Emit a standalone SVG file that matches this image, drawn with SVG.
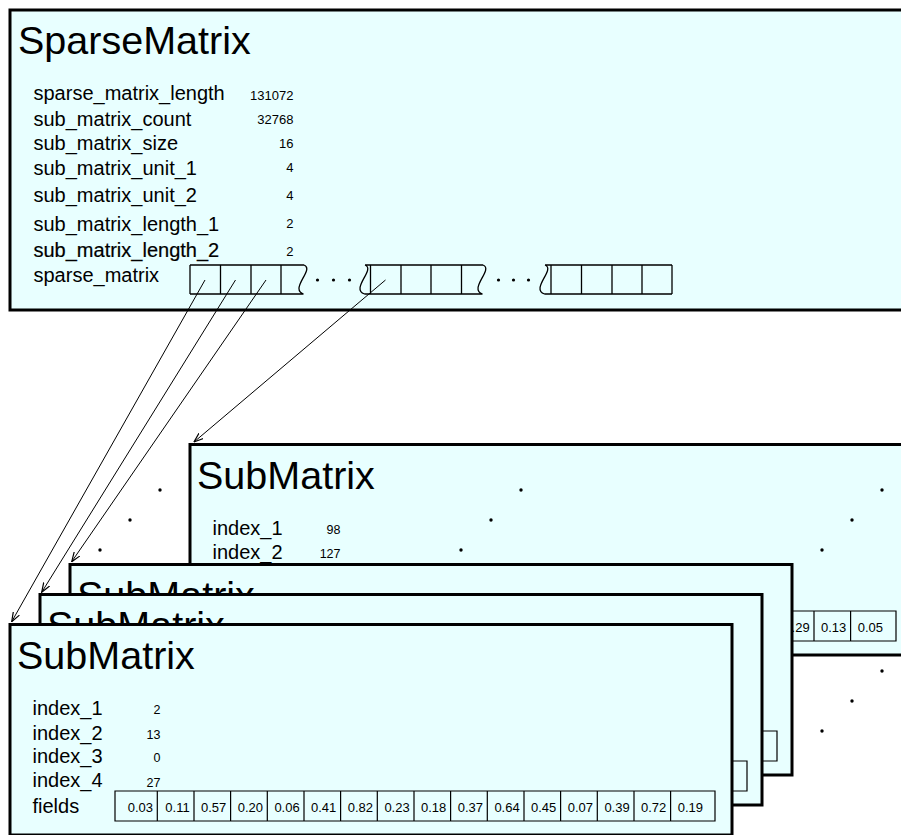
<svg xmlns="http://www.w3.org/2000/svg" width="901" height="835" viewBox="0 0 901 835">
<style>
.box{fill:#e8ffff;stroke:#000;stroke-width:3}
.title{font-family:"Liberation Sans",Arial,sans-serif;font-size:39.5px;fill:#000}
.lbl{font-family:"Liberation Sans",Arial,sans-serif;font-size:20px;fill:#000}
.val{font-family:"Liberation Sans",Arial,sans-serif;font-size:13px;fill:#000;text-anchor:end}
.sval{font-family:"Liberation Sans",Arial,sans-serif;font-size:12.5px;fill:#000;text-anchor:end}
.cv{font-family:"Liberation Sans",Arial,sans-serif;font-size:13px;fill:#000;text-anchor:end}
.cell{fill:none;stroke:#000;stroke-width:1.2}
.arr{fill:none;stroke:#000;stroke-width:1.3}
.conn{fill:none;stroke:#000;stroke-width:1;marker-end:url(#ah)}
.dot{fill:#000}
</style>
<defs>
<marker id="ah" markerUnits="userSpaceOnUse" viewBox="0 0 10 8" refX="9.5" refY="4" markerWidth="10" markerHeight="8" orient="auto">
<path d="M0,0.5 L9.5,4 L0,7.5" fill="none" stroke="#000" stroke-width="1.2"/>
</marker>
</defs>

<g id="sparse-matrix">
<rect class="box" x="10" y="10" width="1000" height="300"/>
<text class="title" x="18" y="54">SparseMatrix</text>
<text class="lbl" x="33.5" y="100">sparse_matrix_length</text>
<text class="lbl" x="33.5" y="125.5">sub_matrix_count</text>
<text class="lbl" x="33.5" y="150">sub_matrix_size</text>
<text class="lbl" x="33.5" y="175">sub_matrix_unit_1</text>
<text class="lbl" x="33.5" y="202">sub_matrix_unit_2</text>
<text class="lbl" x="33.5" y="230.5">sub_matrix_length_1</text>
<text class="lbl" x="33.5" y="257" stroke="#000" stroke-width="0.2">sub_matrix_length_2</text>
<text class="lbl" x="33.5" y="281.5">sparse_matrix</text>
<text class="val" x="293.5" y="100">131072</text>
<text class="val" x="293.5" y="124.3">32768</text>
<text class="val" x="293.5" y="148.3">16</text>
<text class="val" x="293.5" y="172.3">4</text>
<text class="val" x="293.5" y="200">4</text>
<text class="val" x="293.5" y="228.3">2</text>
<text class="val" x="293.5" y="255.7">2</text>
<g id="sparse-array">
<path class="arr" d="M190,265 H304 M190,294 H303.5 M190,265 V294 M220.5,265 V294 M251,265 V294 M281,265 V294 M304,265 C315,269 289,289 303.5,294"/>
<path class="arr" d="M365,265 H483 M364.5,294 H482.5 M365,265 C376,269 350,289 364.5,294 M370.5,265 V294 M401,265 V294 M431,265 V294 M461.5,265 V294 M483,265 C494,269 468,289 482.5,294"/>
<path class="arr" d="M545,265 H672 M544.5,294 H672 M545,265 C556,269 530,289 544.5,294 M551,265 V294 M581.5,265 V294 M612,265 V294 M642,265 V294 M672,265 V294"/>
<circle class="dot" cx="317.5" cy="280" r="1.6"/>
<circle class="dot" cx="333.5" cy="280" r="1.6"/>
<circle class="dot" cx="349.5" cy="280" r="1.6"/>
<circle class="dot" cx="498.5" cy="280" r="1.6"/>
<circle class="dot" cx="513.5" cy="280" r="1.6"/>
<circle class="dot" cx="528.5" cy="280" r="1.6"/>
</g>
</g>

<g id="sub-matrix-back" transform="translate(190,444.5)">
<rect class="box" x="0" y="0" width="722" height="210.5"/>
<text class="title" x="7" y="44.5">SubMatrix</text>
<text class="lbl" x="22.5" y="90.5">index_1</text>
<text class="lbl" x="22.5" y="114.5">index_2</text>
<text class="sval" x="150.5" y="89">98</text>
<text class="sval" x="150.5" y="113.5">127</text>
<path class="cell" d="M587.3,166.5 H706 V196.5 H587.3 Z M624,166.5 V196.5 M660.6,166.5 V196.5"/>
<text class="cv" x="619.7" y="187">0.29</text>
<text class="cv" x="656.3" y="187">0.13</text>
<text class="cv" x="693" y="187">0.05</text>
</g>

<g id="ellipsis-dots-top">
<circle class="dot" cx="160" cy="490" r="1.7"/>
<circle class="dot" cx="130" cy="520" r="1.7"/>
<circle class="dot" cx="100" cy="550" r="1.7"/>
<circle class="dot" cx="521" cy="490" r="1.7"/>
<circle class="dot" cx="491" cy="520" r="1.7"/>
<circle class="dot" cx="461" cy="550" r="1.7"/>
<circle class="dot" cx="882" cy="490" r="1.7"/>
<circle class="dot" cx="852" cy="520" r="1.7"/>
<circle class="dot" cx="822" cy="550" r="1.7"/>
</g>

<g id="sub-matrix-3" transform="translate(70,564.5)">
<rect class="box" x="0" y="0" width="722" height="210.5"/>
<text class="title" x="7" y="44.5">SubMatrix</text>
<path class="cell" d="M660.6,166.5 H707 V196.5 H660.6 Z"/>
<text class="cv" x="693" y="187">0.19</text>
</g>

<g id="sub-matrix-2" transform="translate(40,594.5)">
<rect class="box" x="0" y="0" width="722" height="210.5"/>
<text class="title" x="7" y="44.5">SubMatrix</text>
<path class="cell" d="M660.6,166.5 H707 V196.5 H660.6 Z"/>
<text class="cv" x="693" y="187">0.19</text>
</g>

<g id="sub-matrix-front" transform="translate(10,624.5)">
<rect class="box" x="0" y="0" width="722" height="210.5"/>
<text class="title" x="7" y="44">SubMatrix</text>
<text class="lbl" x="22.5" y="90.5">index_1</text>
<text class="lbl" x="22.5" y="115">index_2</text>
<text class="lbl" x="22.5" y="138">index_3</text>
<text class="lbl" x="22.5" y="162.5">index_4</text>
<text class="lbl" x="22.5" y="188.5">fields</text>
<text class="sval" x="150.5" y="89.5">2</text>
<text class="sval" x="150.5" y="114.3">13</text>
<text class="sval" x="150.5" y="137.3">0</text>
<text class="sval" x="150.5" y="162">27</text>
<path class="cell" d="M105,166.5 H705 V196.5 H105 Z M147.3,166.5 V196.5 M184,166.5 V196.5 M220.6,166.5 V196.5 M257.3,166.5 V196.5 M294,166.5 V196.5 M330.6,166.5 V196.5 M367.3,166.5 V196.5 M404,166.5 V196.5 M440.6,166.5 V196.5 M477.3,166.5 V196.5 M514,166.5 V196.5 M550.6,166.5 V196.5 M587.3,166.5 V196.5 M624,166.5 V196.5 M660.6,166.5 V196.5"/>
<text class="cv" x="143" y="187">0.03</text>
<text class="cv" x="179.7" y="187">0.11</text>
<text class="cv" x="216.3" y="187">0.57</text>
<text class="cv" x="253" y="187">0.20</text>
<text class="cv" x="289.7" y="187">0.06</text>
<text class="cv" x="326.3" y="187">0.41</text>
<text class="cv" x="363" y="187">0.82</text>
<text class="cv" x="399.7" y="187">0.23</text>
<text class="cv" x="436.3" y="187">0.18</text>
<text class="cv" x="473" y="187">0.37</text>
<text class="cv" x="509.7" y="187">0.64</text>
<text class="cv" x="546.3" y="187">0.45</text>
<text class="cv" x="583" y="187">0.07</text>
<text class="cv" x="619.7" y="187">0.39</text>
<text class="cv" x="656.3" y="187">0.72</text>
<text class="cv" x="693" y="187">0.19</text>
</g>

<g id="ellipsis-dots-bottom">
<circle class="dot" cx="882" cy="671" r="1.7"/>
<circle class="dot" cx="852" cy="701" r="1.7"/>
<circle class="dot" cx="822" cy="731" r="1.7"/>
</g>

<g id="connectors">
<path class="conn" d="M205,280 L11.7,621.7"/>
<path class="conn" d="M235.5,280 L41.7,592.3"/>
<path class="conn" d="M266,280 L71.7,561.7"/>
<path class="conn" d="M385.5,280 L194,442"/>
</g>
</svg>
